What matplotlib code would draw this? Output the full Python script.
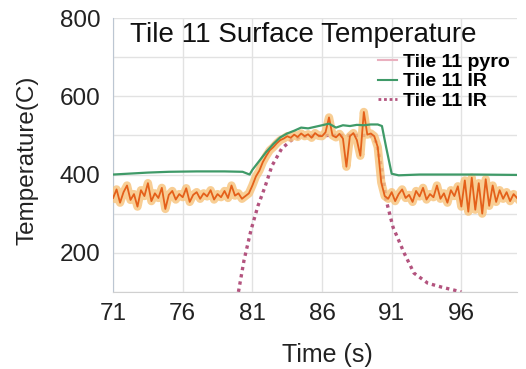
import numpy as np
import matplotlib
matplotlib.use("Agg")
import matplotlib.pyplot as plt
import matplotlib.patheffects as pe
from matplotlib.lines import Line2D

plt.rcParams['font.family'] = ['Liberation Sans', 'DejaVu Sans']

# pyro trace, sampled every 0.25 s from 71 s to 100 s
pyro_start, pyro_end = 71.0, 100.0
pyro_vals = [
    340, 362, 328, 355, 372, 335, 350, 318, 360, 345,
    378, 332, 352, 340, 366, 312, 348, 358, 336, 350,
    342, 365, 330, 348, 355, 338, 352, 344, 360, 336,
    350, 342, 358, 340, 372, 346, 352, 338, 345,
    352, 372, 395, 410, 432, 448, 462, 470, 480, 488,
    492, 498, 494, 502, 496, 505, 498, 503, 494, 506,
    499, 498, 508, 546, 500, 495, 504, 492, 420, 498,
    506, 488, 448, 560, 502, 505, 498, 470, 380, 345,
    338, 355, 332, 350, 362, 340, 348, 330, 358, 344,
    366, 336, 350, 342, 372, 338, 352, 328, 360, 345,
    370, 318, 385, 305, 392, 310, 378, 300, 388, 320,
    372, 330, 360, 338, 355, 332, 350, 340,
]
pyro_t = np.linspace(pyro_start, pyro_end, len(pyro_vals))

# IR (green)
ir_t = [71, 72, 73.5, 75, 77, 79, 80.3, 80.8, 81.0, 81.5, 82.0, 82.5, 83.0,
        83.5, 84.0, 84.5, 85.0, 85.5, 86.0, 86.5, 87.0, 87.5, 88.0, 88.5,
        89.0, 89.5, 90.0, 90.3, 90.6, 91.0, 91.5, 93, 95, 97, 100]
ir_vals = [400, 402, 405, 407, 408, 408, 407, 400, 412, 435, 458, 478, 495,
           505, 512, 520, 518, 522, 526, 530, 520, 526, 524, 527,
           526, 528, 528, 524, 470, 402, 398, 400, 400, 400, 399]

# IR (pink dotted)
ir2_t = [80.0, 80.4, 80.9, 81.4, 81.9, 82.4, 83.1, 83.8, 84.5, 85.5, 86.5,
         87.5, 88.5, 89.5, 89.9, 90.3, 90.6, 91.1, 91.9, 92.6, 93.6, 94.6, 96.0]
ir2_vals = [100, 181, 258, 320, 368, 422, 466, 488, 497, 499, 500,
            500, 500, 500, 482, 410, 335, 265, 199, 148, 122, 112, 100]

x_ticks = [71, 76, 81, 86, 91, 96]
y_ticks = [200, 400, 600, 800]
labels = ['Tile 11 pyro', 'Tile 11 IR', 'Tile 11 IR']

fig = plt.figure(figsize=(5.26, 3.69), dpi=100)
ax = fig.add_axes([0.215, 0.209, 0.768, 0.742])

ax.plot(ir2_t, ir2_vals, color='#b3537e', lw=2.4, ls=(0, (1, 1.2)), zorder=2)
ax.plot(pyro_t, pyro_vals, color='#e4601a', lw=1.3, zorder=3,
        path_effects=[pe.Stroke(linewidth=6, foreground='#f7c27a', alpha=0.8), pe.Normal()])
ax.plot(ir_t, ir_vals, color='#3f9a68', lw=1.6, zorder=4)

ax.set_xlim(71, 100)
ax.set_ylim(100, 800)
ax.set_xticks(x_ticks)
ax.set_yticks(y_ticks)
ax.set_yticks(np.arange(100, 801, 100), minor=True)
ax.grid(True, which='both', color='#e2e2e2', lw=1.0)
ax.tick_params(which='both', length=0, labelsize=17.5, colors='#222222')
ax.tick_params(axis='y', pad=9)
ax.tick_params(axis='x', pad=8)
for s in ['top', 'right']:
    ax.spines[s].set_visible(False)
ax.spines['left'].set_color('#bcc6d2')
ax.spines['bottom'].set_color('#d0d0d0')

ax.set_xlabel('Time (s)', fontsize=18, color='#222222')
ax.set_ylabel('Temperature(C)', fontsize=17.5, color='#222222')
ax.xaxis.set_label_coords(0.53, -0.185)
ax.yaxis.set_label_coords(-0.185, 0.48)

ax.text(0.042, 0.985, 'Tile 11 Surface Temperature', transform=ax.transAxes,
        fontsize=20, va='top', ha='left', color='#111111', zorder=6)

handles = [Line2D([], [], color='#eab0bf', lw=1.5),
           Line2D([], [], color='#3f9a68', lw=1.5),
           Line2D([], [], color='#b3537e', lw=2.0, ls=(0, (1, 1)))]
ax.legend(handles, labels, loc='upper left', bbox_to_anchor=(0.655, 0.87),
          frameon=False, prop={'size': 14, 'weight': 'bold'},
          handlelength=1.0, handletextpad=0.3,
          borderpad=0, borderaxespad=0, labelspacing=0.08)

fig.savefig('out.png', dpi=100)
